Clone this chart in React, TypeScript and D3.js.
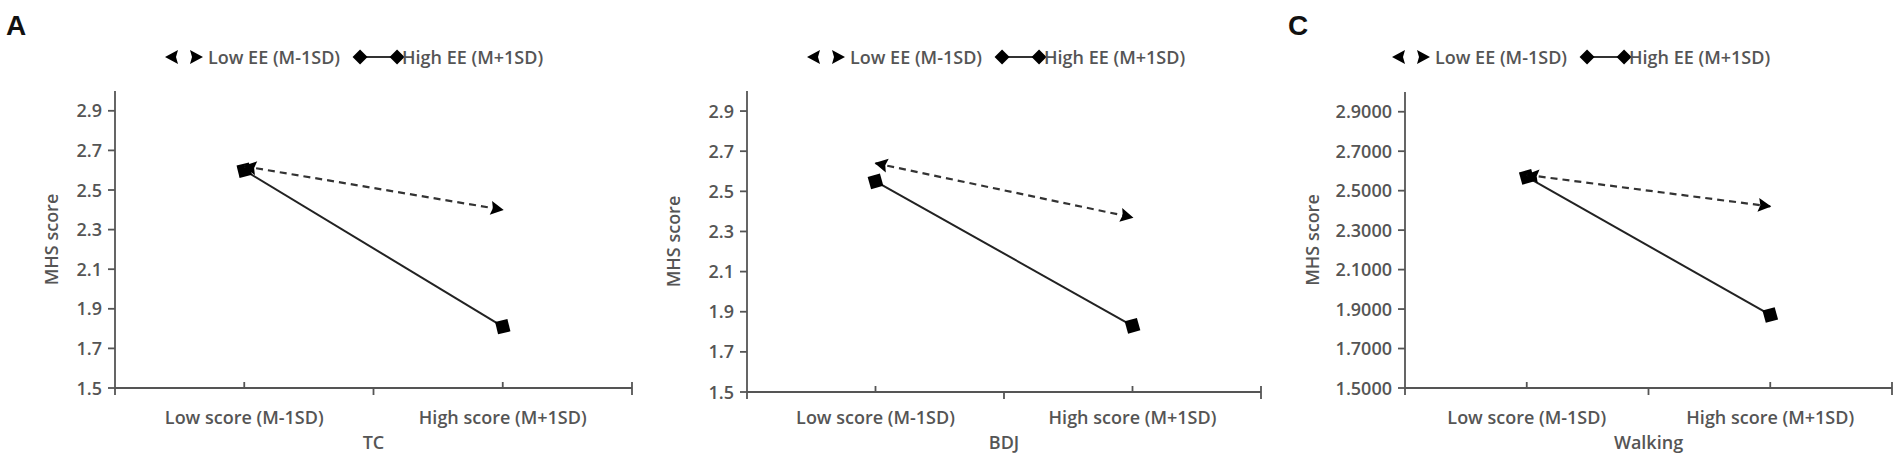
import React, { useEffect, useRef } from 'react';
import * as d3 from 'd3';

// categories on the x axis and legend names
const categories = ['Low score (M-1SD)', 'High score (M+1SD)'];
const seriesNames = ['Low EE (M-1SD)', 'High EE (M+1SD)'];
const yTicks = [1.5, 1.7, 1.9, 2.1, 2.3, 2.5, 2.7, 2.9];

// values
const tcLow = [2.62, 2.4];
const tcHigh = [2.6, 1.81];
const bdjLow = [2.64, 2.37];
const bdjHigh = [2.55, 1.83];
const walkLow = [2.58, 2.42];
const walkHigh = [2.57, 1.87];

const panelTitles = ['TC', 'BDJ', 'Walking'];
const panelLetters = ['A', '', 'C'];
const tickFormats = ['.1f', '.1f', '.4f'];

const lowSeries = [tcLow, bdjLow, walkLow];
const highSeries = [tcHigh, bdjHigh, walkHigh];

// pixel layout of each panel
const layout = [
  { left: 115, right: 632, top: 91, bottom: 388, titleDx: 64, legendX: 166, letterX: 6 },
  { left: 747, right: 1261, top: 91, bottom: 392, titleDx: 74, legendX: 808, letterX: 0 },
  { left: 1405, right: 1892, top: 92, bottom: 388, titleDx: 93, legendX: 1393, letterX: 1288 },
];

const FONT = '"Open Sans", "DejaVu Sans", sans-serif';
const TEXT = '#555';
const AXIS = '#555';

const App: React.FC = () => {
  const svgRef = useRef<SVGSVGElement>(null);

  useEffect(() => {
    if (!svgRef.current) return;
    const svg = d3.select(svgRef.current);
    svg.selectAll('*').remove();

    // ### Markers
    const defs = svg.append('defs');
    defs
      .append('marker')
      .attr('id', 'stealth')
      .attr('viewBox', '-15 -8 17 16')
      .attr('refX', 0)
      .attr('refY', 0)
      .attr('markerWidth', 17)
      .attr('markerHeight', 16)
      .attr('markerUnits', 'userSpaceOnUse')
      .attr('orient', 'auto-start-reverse')
      .append('path')
      .attr('d', 'M1,0 L-12,-7 L-10,0 L-12,7 Z')
      .attr('fill', '#000');

    defs
      .append('marker')
      .attr('id', 'diamond')
      .attr('viewBox', '-10 -10 20 20')
      .attr('refX', 0)
      .attr('refY', 0)
      .attr('markerWidth', 20)
      .attr('markerHeight', 20)
      .attr('markerUnits', 'userSpaceOnUse')
      .attr('orient', 'auto')
      .append('path')
      .attr('d', 'M-9,0 L0,-9 L9,0 L0,9 Z')
      .attr('fill', '#000');

    layout.forEach((p, i) => {
      const g = svg.append('g');

      const x = d3.scaleBand<string>().domain(categories).range([p.left, p.right]).paddingInner(0).paddingOuter(0);
      const y = d3.scaleLinear().domain([1.5, 3.0]).range([p.bottom, p.top]);
      const cx = (c: string) => (x(c) as number) + x.bandwidth() / 2;
      const fmt = d3.format(tickFormats[i]);

      // ### Y axis
      g.append('line')
        .attr('x1', p.left)
        .attr('x2', p.left)
        .attr('y1', y(3.0))
        .attr('y2', y(1.5) + 7)
        .attr('stroke', AXIS)
        .attr('stroke-width', 1.8);

      yTicks.forEach(t => {
        g.append('line')
          .attr('x1', p.left - 7)
          .attr('x2', p.left)
          .attr('y1', y(t))
          .attr('y2', y(t))
          .attr('stroke', AXIS)
          .attr('stroke-width', 1.8);
        g.append('text')
          .attr('x', p.left - 13)
          .attr('y', y(t) + 6.5)
          .attr('text-anchor', 'end')
          .attr('font-family', FONT)
          .attr('font-size', 18)
          .attr('font-weight', 600)
          .attr('fill', TEXT)
          .text(fmt(t));
      });

      // ### X axis
      g.append('line')
        .attr('x1', p.left)
        .attr('x2', p.right)
        .attr('y1', y(1.5))
        .attr('y2', y(1.5))
        .attr('stroke', AXIS)
        .attr('stroke-width', 1.8);

      const major = [p.left + x.bandwidth(), p.right];
      major.forEach((mx, k) => {
        g.append('line')
          .attr('x1', mx)
          .attr('x2', mx)
          .attr('y1', y(1.5) + 7)
          .attr('y2', k === 1 ? y(1.5) - 6 : y(1.5))
          .attr('stroke', AXIS)
          .attr('stroke-width', 1.8);
      });
      categories.forEach(c => {
        g.append('line')
          .attr('x1', cx(c))
          .attr('x2', cx(c))
          .attr('y1', y(1.5) - 6)
          .attr('y2', y(1.5))
          .attr('stroke', AXIS)
          .attr('stroke-width', 1.8);
        g.append('text')
          .attr('x', cx(c))
          .attr('y', 424)
          .attr('text-anchor', 'middle')
          .attr('font-family', FONT)
          .attr('font-size', 18)
          .attr('font-weight', 600)
          .attr('fill', TEXT)
          .text(c);
      });

      // ### Axis titles
      g.append('text')
        .attr('x', p.left + x.bandwidth())
        .attr('y', 449)
        .attr('text-anchor', 'middle')
        .attr('font-family', FONT)
        .attr('font-size', 18)
        .attr('font-weight', 600)
        .attr('fill', TEXT)
        .text(panelTitles[i]);

      g.append('text')
        .attr('transform', `translate(${p.left - p.titleDx}, ${(p.top + p.bottom) / 2}) rotate(-90)`)
        .attr('text-anchor', 'middle')
        .attr('dominant-baseline', 'central')
        .attr('font-family', FONT)
        .attr('font-size', 18)
        .attr('font-weight', 600)
        .attr('fill', TEXT)
        .text('MHS score');

      // ### Lines
      const line = d3
        .line<number>()
        .x((_, k) => cx(categories[k]))
        .y(d => y(d));

      g.append('path')
        .datum(highSeries[i])
        .attr('d', line)
        .attr('fill', 'none')
        .attr('stroke', '#222')
        .attr('stroke-width', 2)
        .attr('marker-start', 'url(#diamond)')
        .attr('marker-end', 'url(#diamond)');

      g.append('path')
        .datum(lowSeries[i])
        .attr('d', line)
        .attr('fill', 'none')
        .attr('stroke', '#333')
        .attr('stroke-width', 2.2)
        .attr('stroke-dasharray', '7,5')
        .attr('marker-start', 'url(#stealth)')
        .attr('marker-end', 'url(#stealth)');

      // ### Legend
      const ly = 57;
      const lg = g.append('g');
      lg.append('path')
        .attr('d', `M${p.legendX},${ly} L${p.legendX + 36},${ly}`)
        .attr('stroke', 'none')
        .attr('fill', 'none')
        .attr('marker-start', 'url(#stealth)')
        .attr('marker-end', 'url(#stealth)');
      const lowText = lg
        .append('text')
        .attr('x', p.legendX + 42)
        .attr('y', ly + 6.5)
        .attr('font-family', FONT)
        .attr('font-size', 18)
        .attr('font-weight', 600)
        .attr('fill', TEXT)
        .text(seriesNames[0]);
      const lowEnd = p.legendX + 42 + (lowText.node() as SVGTextElement).getComputedTextLength();
      const d1 = lowEnd + 20;
      const d2 = d1 + 37;
      lg.append('line')
        .attr('x1', d1)
        .attr('x2', d2)
        .attr('y1', ly)
        .attr('y2', ly)
        .attr('stroke', '#333')
        .attr('stroke-width', 2);
      [d1, d2].forEach(dx => {
        lg.append('path')
          .attr('d', `M${dx - 7.5},${ly} L${dx},${ly - 7.5} L${dx + 7.5},${ly} L${dx},${ly + 7.5} Z`)
          .attr('fill', '#000');
      });
      lg.append('text')
        .attr('x', d2 + 5)
        .attr('y', ly + 6.5)
        .attr('font-family', FONT)
        .attr('font-size', 18)
        .attr('font-weight', 600)
        .attr('fill', TEXT)
        .text(seriesNames[1]);

      // ### Panel letter
      if (panelLetters[i]) {
        g.append('text')
          .attr('x', p.letterX)
          .attr('y', 35)
          .attr('font-family', '"Liberation Sans", Arial, sans-serif')
          .attr('font-size', 28)
          .attr('font-weight', 700)
          .attr('fill', '#111')
          .text(panelLetters[i]);
      }
    });
  }, []);

  return (
    <div>
      <svg
        ref={svgRef}
        width={1902}
        height={461}
        style={{ position: 'absolute', left: 0, top: 0, background: '#fff' }}
      ></svg>
    </div>
  );
};

export default App;
